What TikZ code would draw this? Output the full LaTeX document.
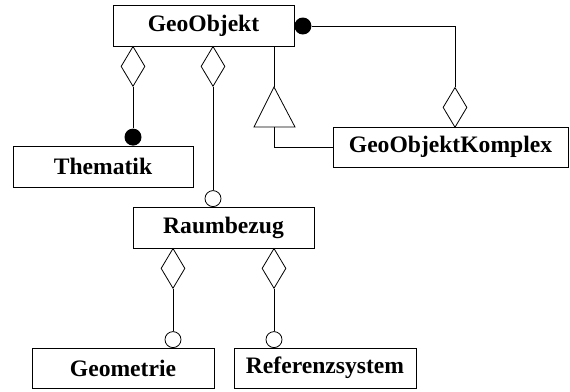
\documentclass[tikz,border=0pt]{standalone}
\usepackage{fontspec}
\setmainfont{Liberation Serif}
\usetikzlibrary{shapes.geometric}
\begin{document}
\begin{tikzpicture}[x=1pt,y=-1pt,
  line width=0.8pt,
  cls/.style={draw, rectangle, inner sep=0pt, minimum height=41pt,
    font=\fontsize{23.6}{28}\selectfont\bfseries},
  agg/.style={draw, diamond, inner sep=0pt, minimum width=24pt,
    minimum height=40pt, fill=white, anchor=north},
  fdot/.style={circle, fill=black, inner sep=0pt, minimum size=17pt},
  odot/.style={circle, draw, fill=white, inner sep=0pt, minimum size=16pt}]
\useasboundingbox (0,0) rectangle (570,391);

% classes
\node[cls, minimum width=181pt] (geo) at (203.5,25.5) {GeoObjekt};
\node[cls, minimum width=180pt] (them) at (103,166.5) {Thematik};
\node[cls, minimum width=235pt, minimum height=40pt] (komp) at (450.5,147) {GeoObjektKomplex};
\node[cls, minimum width=181pt] (raum) at (223.5,227.5) {Raumbezug};
\node[cls, minimum width=182pt, minimum height=40pt] (geom) at (123,368) {Geometrie};
\node[cls, minimum width=182pt, minimum height=40pt] (ref) at (325,368) {Referenzsystem};

% GeoObjekt -- Thematik
\node[agg] (d1) at (133,46) {};
\node[fdot, anchor=south] (c1) at (133,146) {};
\draw (d1.south) -- (c1.north);

% GeoObjekt -- Raumbezug
\node[agg] (d2) at (213,46) {};
\node[odot, anchor=south] (c2) at (213,207) {};
\draw (d2.south) -- (c2.north);

% generalisation GeoObjektKomplex -> GeoObjekt
\coordinate (tapex) at (274,87);
\coordinate (tleft) at (254,127);
\coordinate (tright) at (295,127);
\coordinate (tbase) at (274,127);
\draw (geo.south -| tapex) -- (tapex);
\draw[fill=white] (tapex) -- (tright) -- (tleft) -- cycle;
\draw (tbase) |- (komp.west);

% GeoObjektKomplex aggregates GeoObjekt
\node[fdot, anchor=west] (c4) at (294,26) {};
\node[agg] (d4) at (455,87) {};
\draw (c4.east) -| (d4.north);

% Raumbezug -- Geometrie
\node[agg] (d5) at (173,248) {};
\node[odot, anchor=south] (c5) at (173,348) {};
\draw (d5.south) -- (c5.north);

% Raumbezug -- Referenzsystem
\node[agg] (d6) at (274,248) {};
\node[odot, anchor=south] (c6) at (274,348) {};
\draw (d6.south) -- (c6.north);
\end{tikzpicture}
\end{document}
